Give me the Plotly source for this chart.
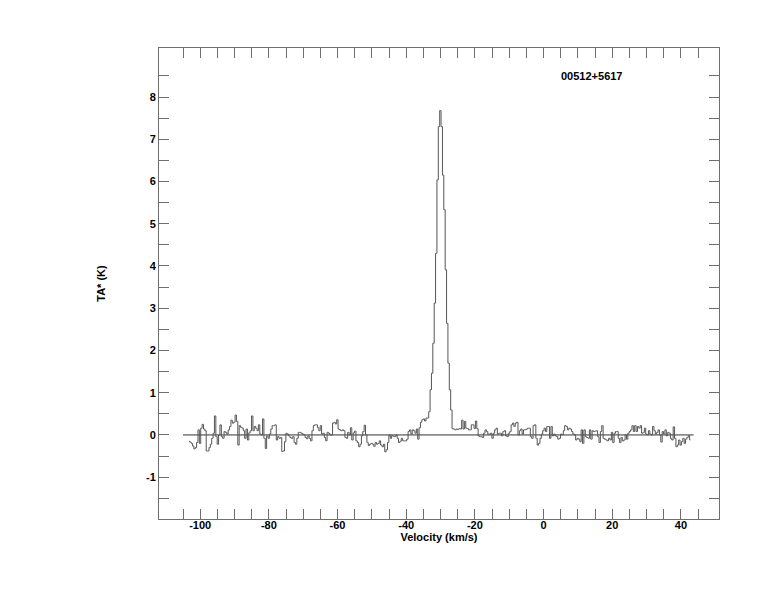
import numpy as np
import plotly.graph_objects as go

# ---- data ----
v_start = -103.25   # first channel centre (km/s)
v_step = 0.4        # channel width (km/s)

ta_noise_a = [  # channels 0-48
    -0.15, -0.17, -0.20, -0.26, -0.33, -0.30, -0.18, 0.12, -0.20, 0.16,
    0.25, 0.14, 0.10, -0.38, -0.38, -0.30, -0.22, -0.08, 0.04, 0.45,
    -0.04, -0.22, 0.00, 0.24, -0.04, -0.08, 0.08, 0.06, 0.02, 0.12,
    0.20, 0.35, 0.28, 0.30, 0.47, 0.32, -0.24, 0.22, 0.18, 0.16,
    0.10, -0.08, 0.14, -0.12, 0.05, 0.10, 0.45, 0.10, 0.20,
]
ta_noise_b = [  # channels 49-102
    0.16, 0.10, 0.24, 0.02, 0.00, 0.38, -0.08, -0.32, -0.02, -0.08,
    0.02, 0.14, 0.22, 0.22, 0.24, -0.12, -0.04, -0.08, -0.06, -0.39,
    -0.38, -0.16, 0.04, 0.02, -0.02, -0.06, -0.08, -0.04, -0.18, -0.22,
    -0.08, 0.06, 0.06, 0.04, 0.02, 0.00, -0.06, -0.09, -0.02, -0.08,
    -0.14, 0.10, 0.22, 0.24, 0.24, 0.17, 0.10, 0.22, 0.02, 0.04,
    -0.06, -0.14, 0.06, 0.04,
]
ta_noise_c = [  # channels 103-157
    0.00, 0.00, 0.28, 0.30, 0.26, 0.36, 0.14, 0.12, 0.10, 0.12,
    0.10, -0.06, -0.08, 0.06, 0.00, 0.17, -0.12, 0.05, 0.09, -0.14,
    -0.18, -0.28, -0.22, -0.02, 0.08, 0.23, 0.00, -0.18, -0.25, -0.22,
    -0.20, -0.22, -0.27, -0.18, -0.22, -0.20, -0.14, -0.24, -0.28, -0.22,
    -0.40, -0.35, -0.18, 0.00, -0.08, -0.02, -0.03, -0.04, 0.00, -0.08,
    -0.18, -0.15, -0.08, -0.14, -0.14,
]
ta_line = [  # channels 158-212 (emission line)
    -0.14, -0.10, 0.08, 0.12, 0.02, 0.12, 0.10, 0.04, 0.14, -0.10,
    0.17, 0.30, 0.36, 0.38, 0.33, 0.40, 0.40,
    0.55, 1.07, 1.46, 2.17, 3.12, 4.30, 6.04, 7.30, 7.68, 7.30,
    6.15, 5.33, 3.91, 2.64, 1.70, 1.07, 0.59,
    0.15, 0.14, 0.12, 0.14, 0.13, 0.15, 0.14, 0.35, 0.14, 0.32,
    0.16, 0.15, 0.12, 0.12, 0.24, 0.24, 0.15, 0.33, 0.15, -0.02,
    -0.04,
]
ta_noise_d = [  # channels 213-266
    -0.04, -0.06, 0.04, 0.12, 0.08, 0.02, 0.02, 0.04, -0.08, 0.04,
    0.12, 0.16, 0.02, 0.04, 0.04, -0.02, 0.08, 0.10, -0.02, -0.04,
    0.04, 0.08, 0.24, 0.28, 0.20, 0.28, 0.30, 0.00, 0.10, 0.14,
    0.02, 0.12, 0.12, 0.14, 0.16, 0.16, -0.04, -0.08, 0.22, 0.24,
    -0.08, -0.24, -0.20, -0.08, 0.02, 0.10, 0.16, 0.08, 0.20, 0.20,
    -0.08, 0.20, -0.02, 0.02,
]
ta_noise_e = [  # channels 267-321
    -0.02, -0.04, -0.10, -0.08, 0.02, 0.00, 0.10, 0.22, 0.20, 0.12,
    0.16, 0.14, 0.08, 0.02, 0.00, -0.12, -0.08, -0.10, -0.16, 0.12,
    -0.20, 0.12, -0.04, -0.06, -0.08, 0.12, -0.10, 0.10, 0.08, 0.09,
    0.10, -0.04, -0.18, 0.08, 0.22, -0.08, -0.10, -0.12, -0.14, -0.08,
    -0.12, 0.06, -0.18, 0.04, 0.08, 0.08, -0.08, -0.18, -0.06, -0.14,
    -0.12, 0.00, -0.10, 0.04, 0.08,
]
ta_noise_f = [  # channels 322-365
    0.12, 0.22, 0.08, 0.22, 0.08, 0.20, 0.16, 0.22, 0.04, 0.06,
    0.16, 0.02, 0.00, 0.10, 0.02, 0.00, 0.20, 0.10, 0.02, 0.06,
    0.12, 0.00, -0.17, 0.08, 0.02, 0.12, -0.02, 0.06, 0.04, -0.08,
    -0.12, 0.19, -0.08, -0.28, -0.24, -0.12, -0.24, -0.16, -0.08, -0.20,
    -0.10, -0.06, -0.02, -0.12,
]
baseline_x = [-105.0, 43.7]
baseline_y = [0.0, 0.0]

x_major = [-100, -80, -60, -40, -20, 0, 20, 40]
x_minor = list(range(-105, 50, 5))
y_major = [-1, 0, 1, 2, 3, 4, 5, 6, 7, 8]
y_minor = [-1.5, -0.5, 0.5, 1.5, 2.5, 3.5, 4.5, 5.5, 6.5, 7.5, 8.5]

source_name = "00512+5617"
x_title = "Velocity (km/s)"
y_title = "TA* (K)"

# ---- build ----
ta = ta_noise_a + ta_noise_b + ta_noise_c + ta_line + ta_noise_d + ta_noise_e + ta_noise_f
vel = v_start + v_step * np.arange(len(ta))

FONT = "Liberation Sans, Arial, sans-serif"
AX = "#6e6e6e"

fig = go.Figure()
fig.add_trace(go.Scatter(x=baseline_x, y=baseline_y, mode="lines",
                         line=dict(color="#333333", width=1), hoverinfo="skip"))
fig.add_trace(go.Scatter(x=vel, y=ta, mode="lines", line_shape="hvh",
                         line=dict(color="#555555", width=1)))

fig.update_layout(
    width=774, height=612,
    margin=dict(l=151, r=63, t=40, b=101),
    paper_bgcolor="white", plot_bgcolor="white",
    showlegend=False,
    font=dict(family=FONT, size=11, color="black"),
    annotations=[dict(text="<b>%s</b>" % source_name, xref="paper", yref="paper",
                      x=0.773, y=0.9406, xanchor="center", yanchor="middle",
                      showarrow=False,
                      font=dict(family=FONT, size=11, color="black"))],
)
fig.update_xaxes(
    range=[-112, 51.1], showgrid=False, zeroline=False,
    showline=True, linecolor=AX, linewidth=1, mirror="allticks",
    tickmode="array", tickvals=x_major, ticktext=["<b>%d</b>" % v for v in x_major],
    ticks="inside", ticklen=10, tickcolor=AX, tickwidth=1,
    ticklabelstandoff=-4,
    minor=dict(tickmode="array", tickvals=x_minor, ticks="inside", ticklen=10,
               tickcolor=AX, tickwidth=1, showgrid=False),
    title=dict(text="<b>%s</b>" % x_title, standoff=0, font=dict(size=11)),
    tickfont=dict(size=11),
)
fig.update_yaxes(
    range=[-1.99, 9.16], showgrid=False, zeroline=False,
    showline=True, linecolor=AX, linewidth=1, mirror="allticks",
    tickmode="array", tickvals=y_major, ticktext=["<b>%d</b>" % v for v in y_major],
    ticks="inside", ticklen=10, tickcolor=AX, tickwidth=1,
    minor=dict(tickmode="array", tickvals=y_minor, ticks="inside", ticklen=10,
               tickcolor=AX, tickwidth=1, showgrid=False),
    title=dict(text="<b>%s</b>" % y_title, standoff=38, font=dict(size=11)),
    tickfont=dict(size=11),
)

fig.write_html("out.html")
